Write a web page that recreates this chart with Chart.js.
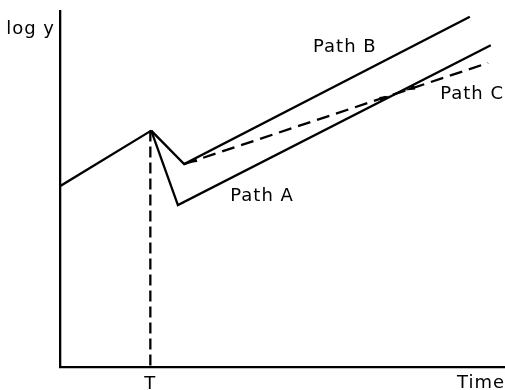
<!DOCTYPE html>
<html>
<head>
<meta charset="utf-8">
<script src="https://cdn.jsdelivr.net/npm/chart.js@4/dist/chart.umd.min.js"></script>
<style>
  html, body { margin: 0; padding: 0; background: #fff; }
  #wrap { width: 505px; height: 390px; }
</style>
</head>
<body>
<div id="wrap"><canvas id="pathChart"></canvas></div>
<script>
// Datos (unidades arbitrarias, 0-100)
const timeBefore = [0, 20.5];
const logYBefore = [50.8, 66.4];
const timeA = [20.5, 26.5, 96.8];
const logYA = [66.4, 45.5, 90.4];
const timeB = [20.5, 27.9, 92.1];
const logYB = [66.4, 57.0, 98.4];
const timeC = [27.9, 96.2];
const logYC = [57.0, 85.4];
const timeT = [20.3, 20.3];
const logYT = [66.4, 0];

const xTickValues = [20.3];
const xTickLabels = ['T'];
const yTickValues = [94.9];
const yTickLabels = ['log y'];

const pathNames = ['Path A', 'Path B', 'Path C'];

const ink = '#000';
const font = { family: 'DejaVu Sans', size: 18 };

function toPoints(xs, ys) {
    return xs.map((x, i) => ({ x: x, y: ys[i] }));
}

function lineSet(xs, ys, dash) {
    return {
        data: toPoints(xs, ys),
        borderColor: ink,
        borderWidth: 2.3,
        borderDash: dash || [],
        pointRadius: 0,
        tension: 0,
        fill: false
    };
}

// Etiquetas de las trayectorias (posición en coordenadas de datos)
const pathLabelPos = [
    { x: 45.4, y: 48.0 },
    { x: 64.0, y: 89.7 },
    { x: 92.6, y: 76.7 }
];

// Puntas de flecha sobre la trayectoria C (fracción del tramo, sentido)
const arrowAt = [0.01, 0.675, 0.727];
const arrowDir = [-1, 1, -1];

const pathLabels = {
    id: 'pathLabels',
    beforeDraw(chart) {
        chart.ctx.letterSpacing = '1px';
    },
    afterDatasetsDraw(chart) {
        const ctx = chart.ctx;
        const xs = chart.scales.x, ys = chart.scales.y;
        ctx.save();
        ctx.fillStyle = ink;
        ctx.font = '18px "DejaVu Sans"';
        ctx.textAlign = 'center';
        ctx.textBaseline = 'middle';
        pathNames.forEach((name, i) => {
            ctx.fillText(name, xs.getPixelForValue(pathLabelPos[i].x), ys.getPixelForValue(pathLabelPos[i].y));
        });

        // flechas de la trayectoria C
        const x0 = xs.getPixelForValue(timeC[0]), y0 = ys.getPixelForValue(logYC[0]);
        const x1 = xs.getPixelForValue(timeC[1]), y1 = ys.getPixelForValue(logYC[1]);
        const len = Math.hypot(x1 - x0, y1 - y0);
        arrowAt.forEach((t, i) => {
            const ux = (x1 - x0) / len * arrowDir[i], uy = (y1 - y0) / len * arrowDir[i];
            const tx = x0 + (x1 - x0) * t, ty = y0 + (y1 - y0) * t;
            const bx = tx - ux * 10, by = ty - uy * 10;
            ctx.beginPath();
            ctx.moveTo(tx, ty);
            ctx.lineTo(bx - uy * 2.2, by + ux * 2.2);
            ctx.lineTo(bx + uy * 2.2, by - ux * 2.2);
            ctx.closePath();
            ctx.fill();
        });
        ctx.restore();
    }
};

const ctx = document.getElementById('pathChart').getContext('2d');
const pathChart = new Chart(ctx, {
    type: 'line',
    data: {
        datasets: [
            lineSet(timeBefore, logYBefore),
            lineSet(timeA, logYA),
            lineSet(timeB, logYB),
            lineSet(timeC, logYC, [13, 7]),
            lineSet(timeT, logYT, [11, 5])
        ]
    },
    options: {
        responsive: true,
        maintainAspectRatio: false,
        animation: false,
        layout: { padding: { top: 11, right: 0, bottom: 0, left: 0 } },
        plugins: {
            legend: { display: false },
            tooltip: { enabled: false }
        },
        scales: {
            x: {
                type: 'linear',
                min: 0,
                max: 100,
                grid: { display: false, drawTicks: false },
                border: { display: true, color: ink, width: 2.3 },
                afterBuildTicks: s => { s.ticks = xTickValues.map(v => ({ value: v })); },
                afterFit: s => { s.height = 23; s.paddingLeft = 0; s.paddingRight = 0; },
                ticks: {
                    color: ink,
                    font: font,
                    padding: 7,
                    maxRotation: 0,
                    callback: (v, i) => xTickLabels[i]
                },
                title: {
                    display: true,
                    text: 'Time',
                    align: 'end',
                    color: ink,
                    font: font,
                    padding: { top: 0, bottom: -4 }
                }
            },
            y: {
                type: 'linear',
                min: 0,
                max: 100,
                grid: { display: false, drawTicks: false },
                border: { display: true, color: ink, width: 2.3 },
                afterBuildTicks: s => { s.ticks = yTickValues.map(v => ({ value: v })); },
                afterFit: s => { s.width = 60; s.paddingTop = 0; s.paddingBottom = 0; },
                ticks: {
                    color: ink,
                    font: font,
                    padding: 5,
                    callback: (v, i) => yTickLabels[i]
                }
            }
        }
    },
    plugins: [pathLabels]
});
</script>
</body>
</html>
